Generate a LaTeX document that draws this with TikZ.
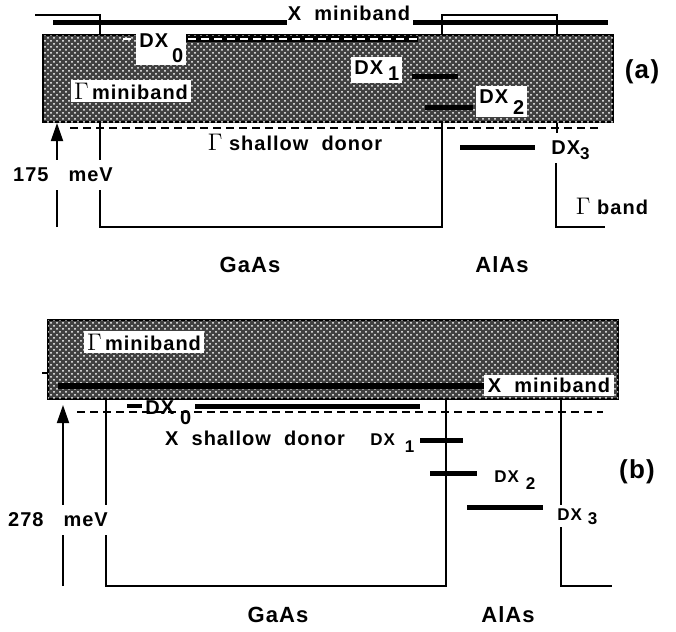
\documentclass[tikz,border=0pt]{standalone}
\usepackage{fontspec}
\setmainfont{Liberation Sans}[LetterSpace=5]
\usetikzlibrary{patterns,arrows.meta}
\newcommand{\dxlab}[3]{DX\hspace{#3}\raisebox{-#2}{#1}}
\newcommand{\gam}{{\large$\Gamma$}}
\begin{document}
\begin{tikzpicture}[x=0.5pt,y=-0.5pt,
    lbl/.style={font=\fontsize{10}{11}\selectfont\bfseries, inner sep=1.5pt},
    slbl/.style={font=\fontsize{8.5}{10}\selectfont\bfseries, inner sep=1.5pt},
    blbl/.style={font=\fontsize{11}{12}\selectfont\bfseries},
    wlbl/.style={lbl, fill=white},
    level/.style={line width=2.5pt},
    wall/.style={line width=0.9pt},
    donor/.style={line width=0.9pt, dash pattern=on 4pt off 2.5pt},
    stipple/.style={draw, line width=1.2pt, fill=black!75,
      postaction={pattern=crosshatch dots, pattern color=white}},
    upar/.style={wall, -{Triangle[length=9pt,width=6pt]}}]
  \useasboundingbox (0,0) rectangle (676,632);

  % (a)
  \draw[wall] (35,15) -- (100,15) -- (100,227) -- (442,227) -- (442,15) -- (557,15) -- (557,133);
  \draw[wall] (556,163) -- (556,227) -- (605,227);
  \draw[level] (53,22) -- (287,22);
  \draw[level] (413,22) -- (608,22);
  \node[lbl] (xmba) at (349,13) {X\ \ miniband};
  \draw[stipple] (43,35) rectangle (613,122);
  \draw[line width=3pt] (173,39) -- (418,39);
  \draw[donor, white, line width=0.7pt] (123,39) -- (418,39);
  \draw[level] (412,76) -- (458,76);
  \draw[level] (425,107) -- (473,107);
  \draw[level] (460,147) -- (535,147);
  \draw[donor] (70,128) -- (598,128);
  \draw[upar] (57,227) -- (57,123);
  \node[wlbl, anchor=base west] (dx0a) at (136,47) {\dxlab{0}{7.5pt}{2pt}};
  \node[wlbl, anchor=base west] (dx1a) at (351,74) {\dxlab{1}{3pt}{2.5pt}};
  \node[wlbl, anchor=base west] (dx2a) at (476,103) {\dxlab{2}{5.5pt}{2.5pt}};
  \node[lbl, anchor=base west] (dx3a) at (548,154) {DX\raisebox{-2.5pt}{\fontsize{8.5}{9}\selectfont 3}};
  \node[wlbl] (gmba) at (131,91) {\gam\,miniband};
  \node[lbl] (gsd) at (295,142) {\gam\ shallow\ \ donor};
  \node[wlbl, inner ysep=4pt] (ea) at (63,175) {175\hspace{10pt}meV};
  \node[lbl] (gb) at (612,206) {\gam\ band};
  \node[font=\fontsize{13}{14}\selectfont\bfseries] (pa) at (642,72) {(a)};
  \node[blbl] (gaasa) at (250,265) {GaAs};
  \node[blbl] (alasa) at (502,265) {AlAs};

  % (b)
  \draw[wall] (106,399) -- (106,586) -- (446,586) -- (446,399);
  \draw[wall] (561,399) -- (561,586) -- (612,586);
  \draw[wall] (42,373) -- (48,373);
  \draw[stipple] (48,320) rectangle (618,399);
  \draw[line width=3pt] (58,386) -- (485,386);
  \node[wlbl, minimum height=9pt, inner xsep=2pt, anchor=south] (xmbb) at (549,396) {X\ \ miniband};
  \node[wlbl] (gmbb) at (144,342) {\gam\,miniband};
  \draw[donor] (77,412) -- (603,412);
  \draw[line width=2pt] (127,406) -- (142,406);
  \draw[level] (195,406) -- (420,406);
  \draw[level] (420,440) -- (463,440);
  \draw[level] (430,473) -- (477,473);
  \draw[level] (467,507) -- (543,507);
  \draw[upar] (63,586) -- (63,405);
  \node[lbl, anchor=base west] (dx0b) at (142,414) {\dxlab{0}{5pt}{3pt}};
  \node[lbl] (xsd) at (255,438) {X\ \ shallow\ \ donor};
  \node[slbl, anchor=base west] (dx1b) at (367,445) {\dxlab{1}{3.5pt}{5pt}};
  \node[slbl, anchor=base west] (dx2b) at (491,482) {\dxlab{2}{3.5pt}{3.5pt}};
  \node[slbl, fill=white, anchor=base west] (dx3b) at (554,520) {\dxlab{3}{2pt}{3pt}};
  \node[wlbl, inner ysep=4pt] (eb) at (58,520) {278\hspace{10pt}meV};
  \node[font=\fontsize{13}{14}\selectfont\bfseries] (pb) at (637,472) {(b)};
  \node[blbl] (gaasb) at (278,615) {GaAs};
  \node[blbl] (alasb) at (508,615) {AlAs};
\end{tikzpicture}
\end{document}
